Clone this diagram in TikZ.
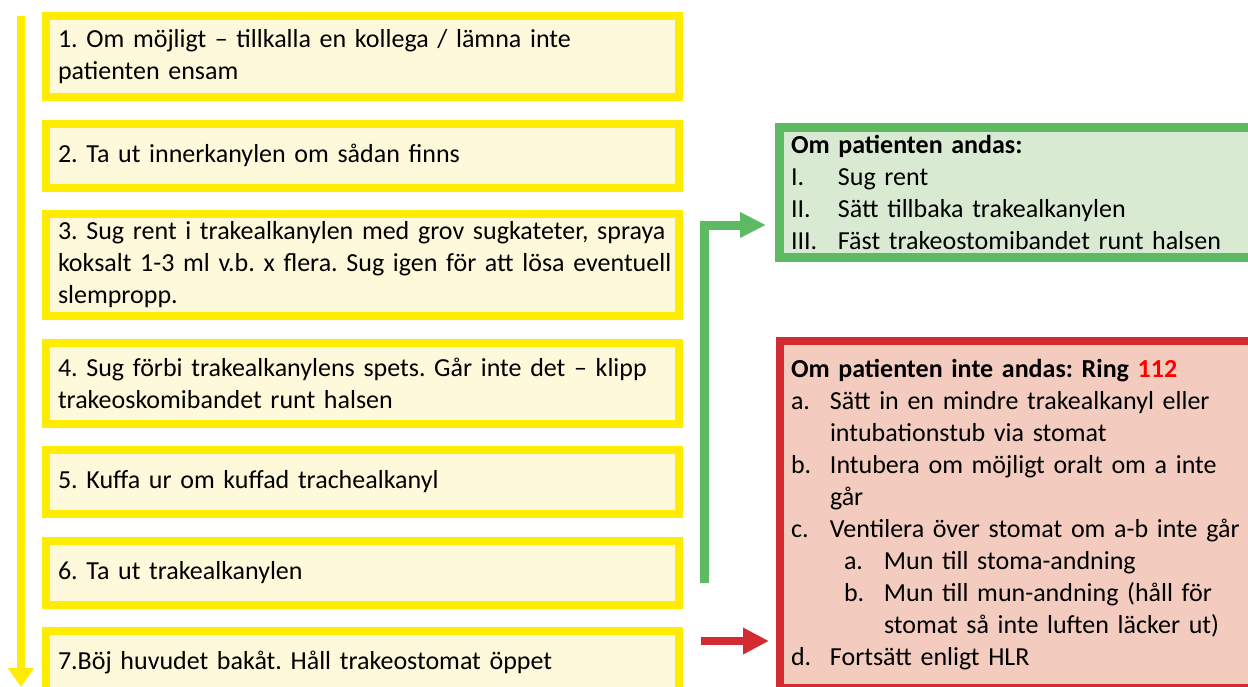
\documentclass[tikz,border=0pt]{standalone}
\usepackage{fontspec}
\setmainfont{Carlito}
\usetikzlibrary{arrows.meta,positioning}

\definecolor{stepyellow}{HTML}{FFEC00}
\definecolor{stepfill}{HTML}{FFF9DB}
\definecolor{okgreen}{HTML}{5DBA62}
\definecolor{okfill}{HTML}{D9EAD3}
\definecolor{badred}{HTML}{D42B32}
\definecolor{badfill}{HTML}{F4CCBF}
\definecolor{ringred}{HTML}{FF0000}
\newcommand{\lbl}[2]{\makebox[#1][l]{#2}}

\begin{document}
\begin{tikzpicture}[x=1pt,y=-1pt,node distance=18.5pt,
    stepbox/.style={rectangle,draw=stepyellow,fill=stepfill,line width=8pt,
      minimum width=633pt,minimum height=64pt,text width=609pt,
      inner xsep=12pt,inner ysep=0pt,align=left,font=\fontsize{26}{32}\selectfont\frenchspacing},
    okbox/.style={rectangle,draw=okgreen,fill=okfill,line width=9pt,
      minimum height=130.5pt,text width=467pt,inner xsep=11.5pt,inner ysep=0pt,
      align=left,font=\fontsize{26}{32}\selectfont\frenchspacing},
    badbox/.style={rectangle,draw=badred,fill=badfill,line width=8pt,
      minimum height=347pt,text width=468pt,inner xsep=11pt,inner ysep=0pt,
      align=left,font=\fontsize{26}{32}\selectfont\frenchspacing},
    steparrow/.style={draw=stepyellow,line width=8pt,-{Triangle[length=19pt,width=25pt]}},
    okarrow/.style={draw=okgreen,line width=9pt,-{Triangle[length=26pt,width=24pt]},shorten >=9pt},
    badarrow/.style={draw=badred,line width=8pt,-{Triangle[length=26pt,width=25pt]},shorten >=7pt}]

  \clip (0,0) rectangle (1248,686);

  \node[stepbox,minimum height=81pt,anchor=north west] (s1) at (42,12)
    {1. Om möjligt – tillkalla en kollega / lämna inte\\ patienten ensam};
  \node[stepbox] (s2) [below=of s1] {2. Ta ut innerkanylen om sådan finns};
  \node[stepbox,minimum height=102pt] (s3) [below=of s2]
    {\mbox{3. Sug rent i trakealkanylen med grov sugkateter, spraya}\\
     \mbox{koksalt 1-3 ml v.b. x flera. Sug igen för att lösa eventuell}\\
     slempropp.};
  \node[stepbox,minimum height=81pt] (s4) [below=of s3]
    {4. Sug förbi trakealkanylens spets. Går inte det – klipp\\
     trakeoskomibandet runt halsen};
  \node[stepbox] (s5) [below=of s4] {5. Kuffa ur om kuffad trachealkanyl};
  \node[stepbox] (s6) [below=of s5] {6. Ta ut trakealkanylen};
  \node[stepbox] (s7) [below=of s6] {7.Böj huvudet bakåt. Håll trakeostomat öppet};

  \node[okbox,anchor=north west] (ok) at (775,122.5)
    {{\bfseries Om patienten andas:}\\
     \lbl{47pt}{I.}Sug rent\\
     \lbl{47pt}{II.}Sätt tillbaka trakealkanylen\\
     \lbl{47pt}{III.}Fäst trakeostomibandet runt halsen};

  \node[badbox,anchor=north west] (bad) at (776,337)
    {{\bfseries Om patienten inte andas: Ring \textcolor{ringred}{112}}\\
     \lbl{39pt}{a.}Sätt in en mindre trakealkanyl eller\\
     \hspace*{39pt}intubationstub via stomat\\
     \lbl{39pt}{b.}Intubera om möjligt oralt om a inte\\
     \hspace*{39pt}går\\
     \lbl{39pt}{c.}Ventilera över stomat om a-b inte går\\
     \hspace*{53pt}\lbl{40pt}{a.}Mun till stoma-andning\\
     \hspace*{53pt}\lbl{40pt}{b.}Mun till mun-andning (håll för\\
     \hspace*{93pt}stomat så inte luften läcker ut)\\
     \lbl{39pt}{d.}Fortsätt enligt HLR};

  \coordinate (down0) at (21,16);
  \coordinate (down1) at (21,687);
  \draw[steparrow] (down0) -- (down1);

  \coordinate (okfrom) at (704.5,583);
  \coordinate (okbend) at (704.5,225);
  \draw[okarrow] (okfrom) -- (okbend) -- (okbend -| ok.west);

  \coordinate (badfrom) at (701,641);
  \draw[badarrow] (badfrom) -- (badfrom -| bad.west);
\end{tikzpicture}
\end{document}
